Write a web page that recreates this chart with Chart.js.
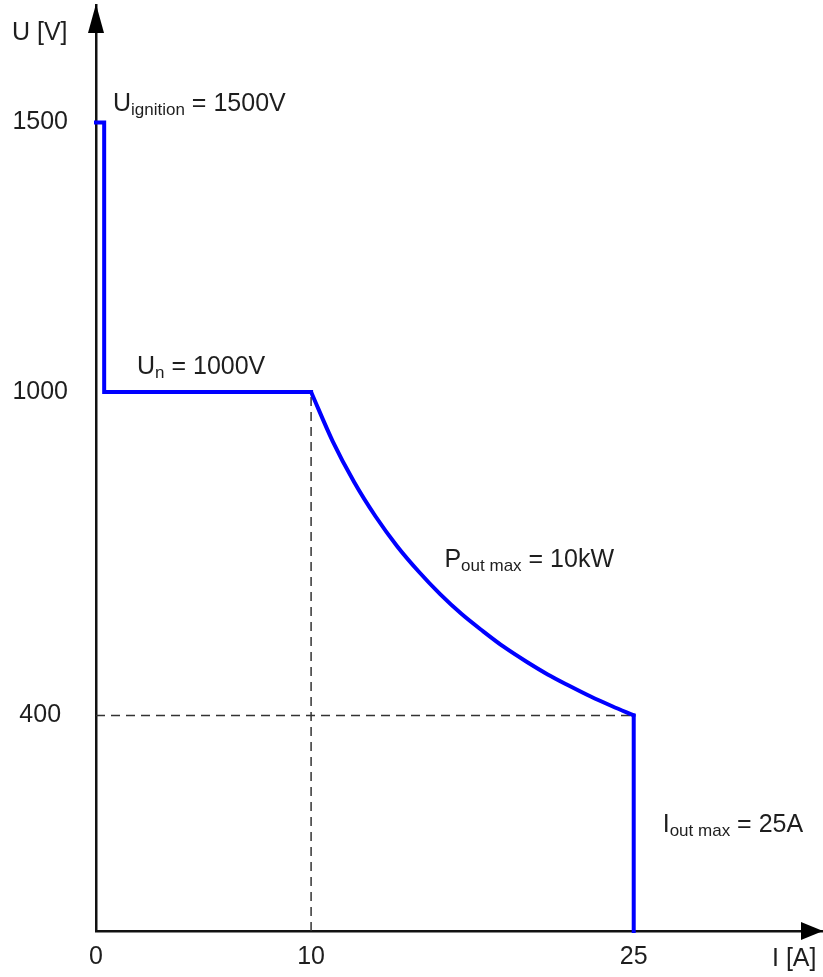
<!DOCTYPE html>
<html>
<head>
<meta charset="utf-8">
<script src="https://cdn.jsdelivr.net/npm/chart.js@4"></script>
<style>
  html, body { margin: 0; padding: 0; background: #fff; }
  canvas { display: block; }
</style>
</head>
<body>
<canvas id="c" width="823" height="977"></canvas>
<script>
// ---- data ----
const xTicks = [0, 10, 25];            // I [A]
const yTicks = [400, 1000, 1500];      // U [V]

// step part: ignition spike and nominal voltage plateau
const stepI = [0, 0.38, 0.38, 10];
const stepU = [1500, 1500, 1000, 1000];

// constant-power part (Pout max = 10 kW)
const powerI = [10, 11, 12, 13, 14, 15, 16, 17, 18, 19, 20, 21, 22, 23, 24, 25];
const powerU = [1000, 909, 833, 769, 714, 667, 625, 588, 556, 526, 500, 476, 455, 435, 417, 400];

// current limit (Iout max = 25 A)
const limitI = [25, 25];
const limitU = [400, 0];

// dashed guide lines
const guideVI = [10, 10];
const guideVU = [0, 1000];
const guideHI = [0, 25];
const guideHU = [400, 400];

const axisMaxI = 33.8;
const axisMaxU = 1718;

const toPts = (xs, ys) => xs.map((x, i) => ({ x: x, y: ys[i] }));

const FONT = "'Liberation Sans', Arial, sans-serif";
const TXT = '#1e1e1e';
const BLUE = '#0000ff';

const annotations = {
  id: 'annotations',
  afterDraw(chart) {
    const ctx = chart.ctx;
    const a = chart.chartArea;
    const xs = chart.scales.x, ys = chart.scales.y;
    ctx.save();
    // arrows
    ctx.fillStyle = '#000';
    ctx.beginPath();
    ctx.moveTo(a.left, a.top - 1);
    ctx.lineTo(a.left - 8, a.top + 28);
    ctx.lineTo(a.left + 8, a.top + 28);
    ctx.closePath();
    ctx.fill();
    ctx.beginPath();
    ctx.moveTo(a.right, a.bottom);
    ctx.lineTo(a.right - 22, a.bottom - 9);
    ctx.lineTo(a.right - 22, a.bottom + 9);
    ctx.closePath();
    ctx.fill();

    ctx.fillStyle = TXT;
    ctx.textBaseline = 'alphabetic';
    ctx.textAlign = 'left';
    function sub(x, y, main, subs, rest) {
      ctx.font = '25px ' + FONT;
      ctx.fillText(main, x, y);
      x += ctx.measureText(main).width;
      ctx.font = '17px ' + FONT;
      ctx.fillText(subs, x, y + 4);
      x += ctx.measureText(subs).width;
      ctx.font = '25px ' + FONT;
      ctx.fillText(rest, x, y);
    }
    const px = v => xs.getPixelForValue(v);
    const py = v => ys.getPixelForValue(v);
    sub(px(0) + 17, py(1500) - 12, 'U', 'ignition', ' = 1500V');
    sub(px(0) + 41, py(1000) - 18, 'U', 'n', ' = 1000V');
    sub(px(16.2), py(675), 'P', 'out max', ' = 10kW');
    sub(px(25) + 29, py(183), 'I', 'out max', ' = 25A');
    ctx.font = '25px ' + FONT;
    ctx.fillText('U [V]', 12, 40);
    ctx.fillText('I [A]', 772, 966);
    ctx.restore();
  }
};

const whiteBg = {
  id: 'whiteBg',
  beforeDraw(chart) {
    const ctx = chart.ctx;
    ctx.save();
    ctx.fillStyle = '#fff';
    ctx.fillRect(0, 0, chart.width, chart.height);
    ctx.restore();
  }
};

new Chart(document.getElementById('c'), {
  type: 'scatter',
  data: {
    datasets: [
      {
        data: toPts(stepI, stepU),
        showLine: true,
        borderColor: BLUE,
        borderWidth: 4,
        borderJoinStyle: 'miter',
        borderCapStyle: 'square',
        pointRadius: 0,
        tension: 0,
        clip: false
      },
      {
        data: toPts(powerI, powerU),
        showLine: true,
        borderColor: BLUE,
        borderWidth: 4,
        cubicInterpolationMode: 'monotone',
        borderCapStyle: 'round',
        pointRadius: 0,
        clip: false
      },
      {
        data: toPts(limitI, limitU),
        showLine: true,
        borderColor: BLUE,
        borderWidth: 4,
        borderCapStyle: 'square',
        pointRadius: 0,
        tension: 0,
        clip: false
      },
      {
        data: toPts(guideVI, guideVU),
        showLine: true,
        borderColor: '#333',
        borderWidth: 1.5,
        borderDash: [9, 6],
        pointRadius: 0
      },
      {
        data: toPts(guideHI, guideHU),
        showLine: true,
        borderColor: '#333',
        borderWidth: 1.5,
        borderDash: [9, 6],
        pointRadius: 0
      }
    ]
  },
  options: {
    responsive: false,
    animation: false,
    devicePixelRatio: 1,
    layout: { padding: { top: 5, right: 0, left: 0, bottom: 0 } },
    plugins: { legend: { display: false }, tooltip: { enabled: false } },
    events: [],
    scales: {
      x: {
        type: 'linear',
        min: 0,
        max: axisMaxI,
        afterBuildTicks: s => { s.ticks = xTicks.map(v => ({ value: v })); },
        afterFit: s => { s.height = 46; s.paddingLeft = 0; s.paddingRight = 0; s.paddingTop = 0; s.paddingBottom = 0; },
        grid: { display: false, drawTicks: false },
        border: { display: true, color: '#111', width: 2.5 },
        ticks: { color: TXT, font: { family: FONT, size: 25 }, padding: 11, maxRotation: 0, autoSkip: false,
                 callback: v => String(v) }
      },
      y: {
        type: 'linear',
        min: 0,
        max: axisMaxU,
        afterBuildTicks: s => { s.ticks = yTicks.map(v => ({ value: v })); },
        afterFit: s => { s.width = 96; s.paddingLeft = 0; s.paddingRight = 0; s.paddingTop = 0; s.paddingBottom = 0; },
        grid: { display: false, drawTicks: false },
        border: { display: true, color: '#111', width: 2.5 },
        ticks: { color: TXT, font: { family: FONT, size: 25 }, padding: 28, crossAlign: 'center', autoSkip: false,
                 callback: v => String(v) }
      }
    }
  },
  plugins: [whiteBg, annotations]
});
</script>
</body>
</html>
